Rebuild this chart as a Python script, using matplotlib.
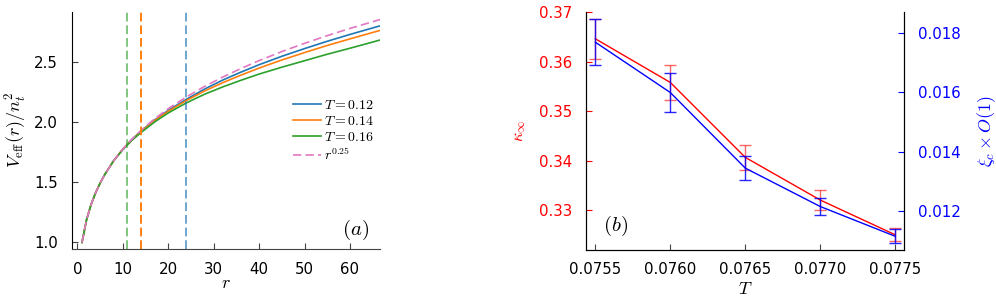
import numpy as np
import matplotlib
matplotlib.use("Agg")
import matplotlib.pyplot as plt

#### Data ####

# panel (a): effective potential curves
r = [1, 2, 3, 4, 5, 6, 8, 10, 12, 14, 17, 20, 24, 28, 32, 36, 40, 45, 50, 55, 60, 66, 67]
v_pow = [1.000, 1.189, 1.316, 1.414, 1.495, 1.565, 1.682, 1.778, 1.861, 1.934, 2.031, 2.115,
         2.213, 2.300, 2.378, 2.449, 2.515, 2.590, 2.659, 2.723, 2.783, 2.850, 2.861]
v_t012 = [1.000, 1.189, 1.316, 1.414, 1.495, 1.565, 1.682, 1.778, 1.858, 1.928, 2.021, 2.101,
          2.193, 2.278, 2.353, 2.419, 2.481, 2.551, 2.615, 2.676, 2.733, 2.798, 2.808]
v_t014 = [1.000, 1.189, 1.316, 1.414, 1.495, 1.565, 1.682, 1.778, 1.856, 1.924, 2.016, 2.093,
          2.183, 2.262, 2.331, 2.394, 2.453, 2.520, 2.582, 2.641, 2.696, 2.760, 2.770]
v_t016 = [1.000, 1.189, 1.316, 1.414, 1.495, 1.565, 1.682, 1.773, 1.851, 1.916, 2.004, 2.079,
          2.163, 2.235, 2.296, 2.351, 2.403, 2.460, 2.514, 2.568, 2.618, 2.680, 2.690]
r_cut = [24, 14, 11]  # dashed vertical markers for T = 0.12, 0.14, 0.16
t_labels = ["$T=0.12$", "$T=0.14$", "$T=0.16$"]

# panel (b)
T = [0.0755, 0.0760, 0.0765, 0.0770, 0.0775]
kappa = [0.3646, 0.3558, 0.3407, 0.3321, 0.3251]
kappa_err = [0.0040, 0.0036, 0.0025, 0.0020, 0.0013]
xi = [0.01768, 0.01599, 0.01345, 0.01216, 0.01116]
xi_err = [0.00077, 0.00066, 0.00041, 0.00028, 0.00023]

#### Style ####

plt.rcParams['mathtext.fontset'] = 'cm'
plt.rcParams['font.family'] = ['DejaVu Sans']
plt.rcParams['font.size'] = 10.8

c_blue = '#1f77b4'
c_orange = '#ff7f0e'
c_green = '#2ca02c'
c_pink = '#e377c2'

fig = plt.figure(figsize=(9.96, 2.99), dpi=100)

#### Panel (a) ####

ax1 = fig.add_axes([0.0723, 0.1672, 0.3092, 0.7927])
ax1.plot(r, v_t012, color=c_blue, lw=1.2, label=t_labels[0])
ax1.plot(r, v_t014, color=c_orange, lw=1.2, label=t_labels[1])
ax1.plot(r, v_t016, color=c_green, lw=1.2, label=t_labels[2])
ax1.plot(r, v_pow, color=c_pink, lw=1.2, dashes=(5, 2.5), label="$r^{0.25}$")
for rc, col, a in zip(r_cut, [c_blue, c_orange, c_green], [0.65, 1.0, 0.6]):
    ax1.axvline(rc, color=col, lw=1.4, dashes=(4.5, 2), alpha=a)

ax1.set_xlim(-1.2, 66.6)
ax1.set_ylim(0.945, 2.92)
ax1.set_xticks([0, 10, 20, 30, 40, 50, 60])
ax1.set_yticks([1.0, 1.5, 2.0, 2.5])
ax1.set_xlabel("$r$", fontsize=13, labelpad=-2)
ax1.set_ylabel(r"$V_{\rm eff}(r)/n_t^2$", fontsize=13, labelpad=4)
ax1.spines['top'].set_visible(False)
ax1.spines['right'].set_visible(False)
ax1.spines['bottom'].set_color('#444444')
ax1.tick_params(direction='in', length=4, color='#444444')
ax1.tick_params(axis='y', pad=10)
ax1.tick_params(axis='x', pad=9)
leg = ax1.legend(loc='upper left', bbox_to_anchor=(0.70, 0.66), frameon=False,
                 fontsize=10, handlelength=2.0, handletextpad=0.2, labelspacing=0.15,
                 borderaxespad=0)
ax1.text(0.92, 0.08, "$(a)$", transform=ax1.transAxes, fontsize=15,
         ha='center', va='center')

#### Panel (b) ####

ax2 = fig.add_axes([0.5884, 0.1649, 0.3195, 0.7950])
ax2.plot(T, kappa, color='red', lw=1.0)
ax2.errorbar(T, kappa, yerr=kappa_err, fmt='none', ecolor=(1, 0, 0, 0.6),
             elinewidth=1.0, capsize=4.5, capthick=1.0)
ax2.set_xlim(0.075438, 0.07756)
ax2.set_ylim(0.3221, 0.3700)
ax2.set_xticks(T)
ax2.set_xticklabels(["0.0755", "0.0760", "0.0765", "0.0770", "0.0775"])
ax2.set_yticks([0.33, 0.34, 0.35, 0.36, 0.37])
ax2.tick_params(axis='y', colors='red', direction='in', length=4, pad=10)
ax2.tick_params(axis='x', direction='in', length=4, color='#444444', pad=9)
ax2.set_ylabel(r"$\kappa_\infty$", color='red', fontsize=12, labelpad=8)
ax2.set_xlabel("$T$", fontsize=13, labelpad=2)
ax2.spines['top'].set_visible(False)
ax2.text(0.094, 0.10, "$(b)$", transform=ax2.transAxes, fontsize=15,
         ha='center', va='center')

ax3 = ax2.twinx()
ax3.plot(T, xi, color='blue', lw=1.0)
ax3.errorbar(T, xi, yerr=xi_err, fmt='none', ecolor=(0, 0, 1, 0.85),
             elinewidth=1.0, capsize=4.5, capthick=1.0)
ax3.set_ylim(0.01071, 0.018695)
ax3.set_yticks([0.012, 0.014, 0.016, 0.018])
ax3.tick_params(axis='y', colors='blue', direction='in', length=4, pad=10)
ax3.set_ylabel(r"$\xi_c \times O(1)$", color='blue', fontsize=13, rotation=90, labelpad=10)
ax3.spines['top'].set_visible(False)

fig.savefig("out.png", dpi=100)
